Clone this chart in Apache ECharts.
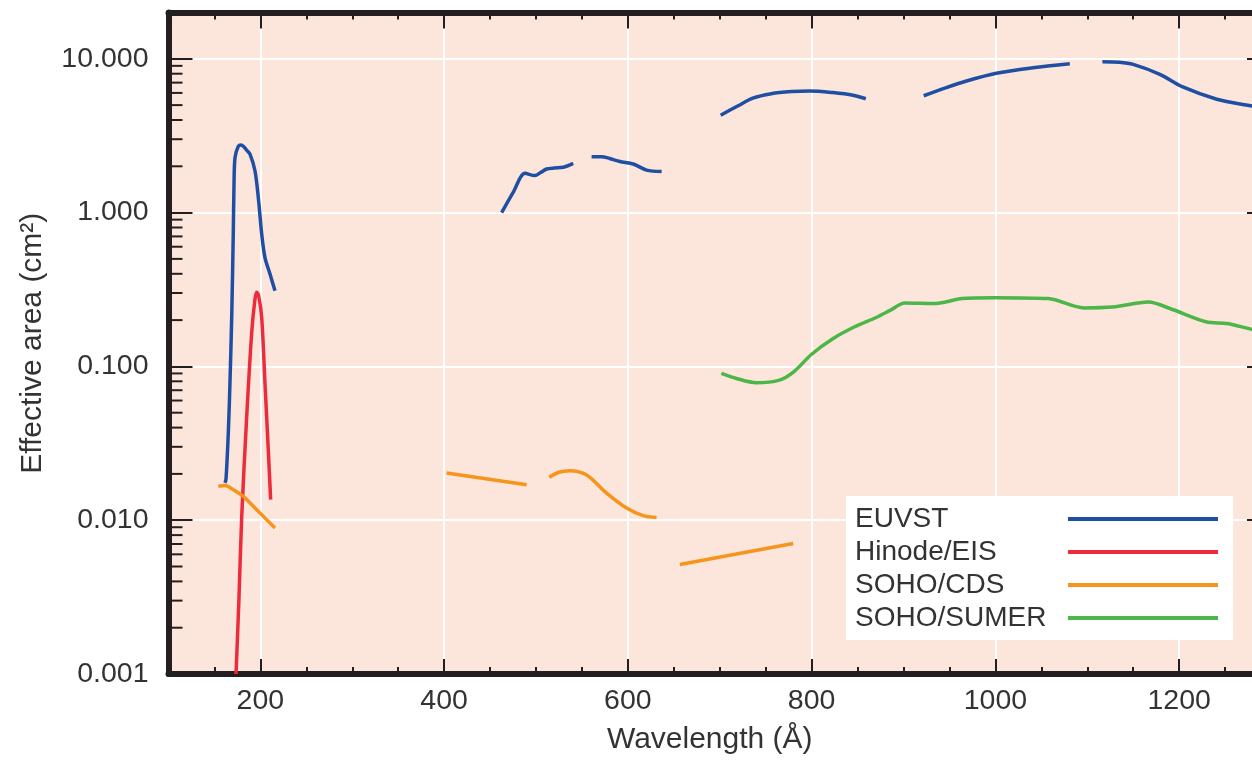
<!DOCTYPE html>
<html><head><meta charset="utf-8">
<script src="https://cdn.jsdelivr.net/npm/echarts@6/dist/echarts.min.js"></script>
<style>html,body{margin:0;padding:0;background:#fff;overflow:hidden;width:1252px;height:760px}#chart{width:1280px;height:760px}</style>
</head><body><div id="chart"></div>
<script>
// ---- data ----
const seriesNames = ['EUVST', 'Hinode/EIS', 'SOHO/CDS', 'SOHO/SUMER'];
const xTickValues = [200, 400, 600, 800, 1000, 1200];
const yTickValues = [0.001, 0.01, 0.1, 1, 10];
const yMinorMultipliers = [2, 3, 4, 5, 6, 7, 8, 9];

const euvstSeg1 = [[161.5,0.0175],[162.6,0.0185],[165.1,0.037],[166.9,0.078],[168.8,0.21],[170.5,0.73],[171.3,1.53],[172.4,2.28],[176,2.7],[179,2.75],[181.4,2.7],[185,2.55],[188.7,2.4],[194.1,1.87],[197.7,1.26],[201.4,0.73],[205,0.51],[210.4,0.40],[215.9,0.31]];
const euvstSeg2 = [[462.6,1.0],[475,1.35],[488,1.8],[498.8,1.74],[505,1.82],[511.5,1.92],[520,1.95],[529.6,1.97],[540.5,2.09]];
const euvstSeg3 = [[560.5,2.31],[571.4,2.31],[580,2.25],[591.3,2.15],[605.8,2.07],[620.3,1.89],[636.7,1.85]];
const euvstSeg4 = [[701,4.3],[720,4.95],[736,5.55],[756,5.93],[778,6.12],[798,6.18],[823,6.03],[845,5.8],[859,5.5]];
const euvstSeg5 = [[922,5.75],[945,6.45],[968.6,7.17],[1001,8.05],[1041,8.74],[1081,9.29]];
const euvstSeg6 = [[1116.5,9.57],[1135,9.5],[1150,9.2],[1179,7.93],[1204,6.56],[1241,5.46],[1273,5.01],[1300,4.75]];

const eisSeg1 = [[173.5,0.001],[176.7,0.0031],[179.7,0.0106],[185.1,0.047],[190.5,0.164],[194,0.27],[196,0.304],[198,0.29],[201.4,0.209],[205,0.078],[208.6,0.0287],[211.2,0.0136]];

const cdsSeg1 = [[154.2,0.0166],[161.5,0.0168],[170.5,0.0158],[181.4,0.0143],[196,0.0117],[215.9,0.0089]];
const cdsSeg2 = [[402.7,0.0203],[489.8,0.017]];
const cdsSeg3 = [[514.4,0.019],[525,0.0205],[536.9,0.021],[555.1,0.0197],[576.8,0.015],[598.6,0.012],[616.6,0.0107],[631.2,0.0104]];
const cdsSeg4 = [[656.6,0.00515],[779.9,0.00705]];

const sumerSeg1 = [[701.8,0.0901],[718.2,0.0835],[739.6,0.0783],[765,0.0815],[780.5,0.0922],[800,0.120],[823.5,0.152],[846.9,0.181],[870.3,0.208],[885.9,0.232],[901.4,0.258],[932.6,0.256],[963.9,0.276],[999,0.280],[1057.5,0.276],[1096.5,0.240],[1127.6,0.243],[1166.7,0.262],[1190,0.238],[1229.1,0.195],[1252.5,0.190],[1279,0.174],[1300,0.165]];

const seriesColors = ['#1f4fa3', '#ee2b3b', '#f7941d', '#4cb648'];

// ---- helpers ----
function joinSegments(segs) {
  const out = [];
  segs.forEach((s, i) => {
    if (i > 0) {
      const prev = segs[i - 1];
      out.push([(prev[prev.length - 1][0] + s[0][0]) / 2, '-']);
    }
    s.forEach(p => out.push(p));
  });
  return out;
}
const seriesData = [
  joinSegments([euvstSeg1, euvstSeg2, euvstSeg3, euvstSeg4, euvstSeg5, euvstSeg6]),
  joinSegments([eisSeg1]),
  joinSegments([cdsSeg1, cdsSeg2, cdsSeg3, cdsSeg4]),
  joinSegments([sumerSeg1])
];
const yMinorTicks = [];
yTickValues.slice(0, -1).forEach(d => yMinorMultipliers.forEach(m => yMinorTicks.push(+(d * m).toPrecision(3))));

const FONT = "'Liberation Sans', Arial, Helvetica, sans-serif";
const INK = '#231f20';
const TXT = '#333333';
const X_MIN = 100, X_MAX = 1300, Y_MIN = 0.001, Y_MAX = 20;

const isDecade = v => Math.abs(Math.log10(v) - Math.round(Math.log10(v))) < 1e-6;

const chart = echarts.init(document.getElementById('chart'), null, { renderer: 'canvas' });

const baseX = {
  type: 'value', min: X_MIN, max: X_MAX, interval: 50, gridIndex: 0
};

const option = {
  animation: false,
  backgroundColor: '#ffffff',
  grid: {
    left: 168.5, top: 12.5, right: 9, bottom: 84.5,
    show: true, backgroundColor: '#fce5db', borderWidth: 0
  },
  legend: {
    orient: 'vertical', left: 846, top: 496,
    backgroundColor: '#ffffff', padding: [9, 15, 8, 9],
    itemGap: 5, itemWidth: 150, itemHeight: 4, align: 'right',
    icon: 'rect', selectedMode: false,
    data: seriesNames,
    formatter: '{a|{name}}',
    textStyle: {
      rich: { a: { width: 208, align: 'left', fontSize: 28, lineHeight: 28, color: TXT, fontFamily: FONT } }
    }
  },
  xAxis: [
    Object.assign({}, baseX, {
      position: 'bottom',
      name: 'Wavelength (Å)', nameLocation: 'middle', nameGap: 51,
      nameTextStyle: { fontSize: 30, color: TXT, fontFamily: FONT, padding: [0, 20, 0, 0] },
      axisLine: { show: true, onZero: false, lineStyle: { color: INK, width: 6 } },
      axisTick: { show: true, inside: true, length: 15, lineStyle: { color: INK, width: 2 }, customValues: xTickValues },
      axisLabel: { show: true, customValues: xTickValues, fontSize: 28.5, color: TXT, fontFamily: FONT, margin: 13,
        formatter: v => (xTickValues.indexOf(v) >= 0 ? String(v) : '') },
      splitLine: { show: true, lineStyle: { color: '#ffffff', width: 2 } },
      minorTick: { show: false }
    }),
    Object.assign({}, baseX, {
      position: 'bottom',
      axisLine: { show: false, onZero: false },
      axisTick: { show: true, inside: true, length: 7, lineStyle: { color: INK, width: 2 } },
      axisLabel: { show: false }, splitLine: { show: false }
    }),
    Object.assign({}, baseX, {
      position: 'top',
      axisLine: { show: true, onZero: false, lineStyle: { color: INK, width: 6 } },
      axisTick: { show: true, inside: true, length: 16, lineStyle: { color: INK, width: 2 }, customValues: xTickValues },
      axisLabel: { show: false }, splitLine: { show: false }
    }),
    Object.assign({}, baseX, {
      position: 'top',
      axisLine: { show: false, onZero: false },
      axisTick: { show: true, inside: true, length: 7, lineStyle: { color: INK, width: 2 } },
      axisLabel: { show: false }, splitLine: { show: false }
    })
  ],
  yAxis: [
    {
      type: 'log', logBase: 10, min: Y_MIN, max: Y_MAX, position: 'left',
      name: 'Effective area (cm²)', nameLocation: 'middle', nameGap: 121, nameRotate: 90,
      nameTextStyle: { fontSize: 30, color: TXT, fontFamily: FONT },
      axisLine: { show: true, onZero: false, lineStyle: { color: INK, width: 6 } },
      axisTick: { show: true, inside: true, length: 24, lineStyle: { color: INK, width: 2 } },
      axisLabel: { show: true, fontSize: 28.5, color: TXT, fontFamily: FONT, margin: 20,
        formatter: v => (isDecade(v) && v <= 10 ? v.toFixed(3) : '') },
      splitLine: { show: true, lineStyle: { color: '#ffffff', width: 2 } }
    },
    {
      type: 'log', logBase: 10, min: Y_MIN, max: Y_MAX, position: 'right',
      axisLine: { show: true, onZero: false, lineStyle: { color: INK, width: 6 } },
      axisTick: { show: true, inside: true, length: 24, lineStyle: { color: INK, width: 2 } },
      axisLabel: { show: false }, splitLine: { show: false }
    }
  ],
  series: seriesNames.map((name, i) => ({
    name: name, type: 'line', xAxisIndex: 0, yAxisIndex: 0,
    data: seriesData[i], showSymbol: false, symbol: 'none',
    smooth: 0.3, connectNulls: false, clip: true,
    color: seriesColors[i],
    lineStyle: { color: seriesColors[i], width: 3.5 }
  })).concat([{
    type: 'custom', xAxisIndex: 0, yAxisIndex: 0, silent: true, clip: false, z: 3,
    data: yMinorTicks.map(v => [X_MIN, v]),
    renderItem: function (params, api) {
      const p = api.coord([api.value(0), api.value(1)]);
      return { type: 'line', shape: { x1: p[0], y1: p[1], x2: p[0] + 14, y2: p[1] },
        style: { stroke: INK, lineWidth: 2 } };
    }
  }])
};
chart.setOption(option);
</script>
</body></html>
